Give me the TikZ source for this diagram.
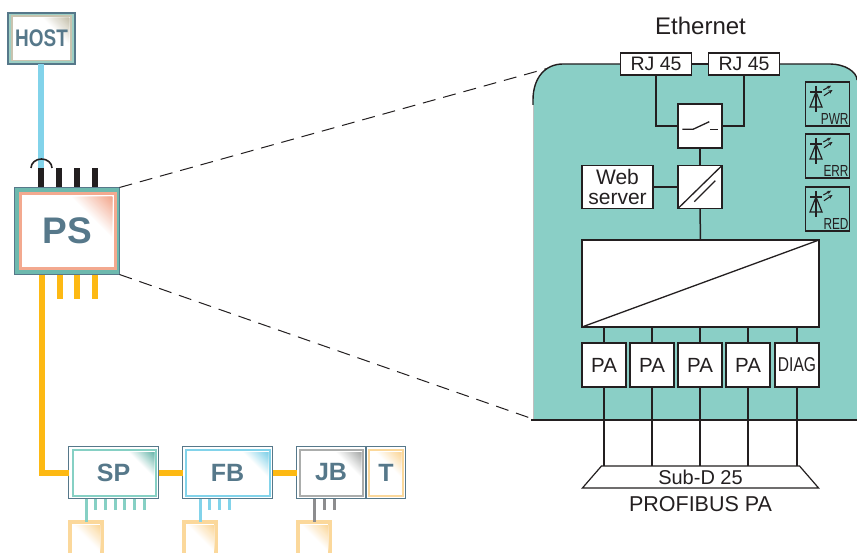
\documentclass[tikz,border=0pt]{standalone}
\usepackage{fontspec}
\setmainfont{Liberation Sans}
\usetikzlibrary{shapes.geometric,arrows.meta,calc}
\definecolor{slate}{HTML}{56788A}
\definecolor{tealbg}{HTML}{8ACFC6}
\definecolor{tealrim}{HTML}{6DB9AE}
\definecolor{tealpin}{HTML}{86D0C4}
\definecolor{salmon}{HTML}{F3A98F}
\definecolor{skyline}{HTML}{82D3EA}
\definecolor{amber}{HTML}{FDB913}
\definecolor{beige}{HTML}{C8C3AF}
\definecolor{hostrim}{HTML}{9CCFC4}
\definecolor{greyrim}{HTML}{ABADAC}
\definecolor{greypin}{HTML}{8C8C8E}
\definecolor{sand}{HTML}{FBD89B}
\definecolor{ink}{HTML}{231F20}
\newcommand\myfs[1]{\fontsize{#1}{#1}\selectfont}
\newcommand\rimrect[5]{\fill[#5] (#1,#2) rectangle (#3,#4);}
% x2 y1 size colour: a corner triangle fading to white towards its long edge
\newcommand\cornershade[4]{%
  \foreach \st in {0,...,23}{%
    \pgfmathsetmacro\sz{#3*(1-\st/24)}%
    \pgfmathsetmacro\pc{100*(\st+1)/24}%
    \fill[#4!\pc!white] (#1,#2) -- (#1-\sz,#2) -- (#1,#2+\sz) -- cycle;
  }}
\tikzset{
  every node/.style={inner sep=0pt,outer sep=0pt,text=ink},
  plainbox/.style={draw=ink,fill=white,line width=1.5pt,align=center},
  devframe/.style={draw=slate,line width=1.8pt,text=slate,font=\bfseries},
  wire/.style={draw=ink,line width=1.5pt},
  thickblue/.style={draw=skyline,line width=6pt},
  thickamber/.style={draw=amber,line width=6pt},
  blackpin/.style={draw=ink,line width=6pt},
  lead/.style={dash pattern=on 13pt off 8pt,draw=ink,line width=1pt},
  tealp/.style={draw=tealpin,line width=3pt},
  bluep/.style={draw=skyline,line width=3pt},
  greyp/.style={draw=greypin,line width=3pt},
  sandbox/.style={draw=sand,line width=4pt,fill=white}
}
\begin{document}
\begin{tikzpicture}[x=1pt,y=-1pt]
\clip (0,0) rectangle (857,553);
\fill[white] (0,0) rectangle (857,553);

% ---------- panel
\fill[tealbg] (533,419.5) -- (533,100) .. controls (533,78) and (545,64) .. (563,64) -- (830,64) .. controls (845,64) and (857,72) .. (857,80) -- (857,419.5) -- cycle;
\draw[black!25,line width=1pt] (533,105) -- (533,419);
\draw[ink,line width=1.4pt] (533,105) -- (533,100) .. controls (533,78) and (545,64) .. (563,64) -- (830,64) .. controls (845,64) and (857,72) .. (857,80);
\draw[ink,line width=1.4pt] (531,420) -- (857,420);

% ---------- HOST
\rimrect{8}{13}{75}{64}{hostrim}
\rimrect{11}{15.5}{72}{61.5}{beige}
\rimrect{12.5}{17}{70}{60}{white}
\cornershade{69}{18}{26}{beige}
\node[devframe,minimum width=67.4pt,minimum height=51.4pt] (host) at (41.5,38.5) {\myfs{24}\scalebox{.79}[1]{HOST}};

% ---------- PS
\rimrect{14}{187}{120}{275}{tealrim}
\rimrect{19}{192}{117}{270}{salmon}
\rimrect{22}{195}{114}{267}{white}
\cornershade{112}{197}{40}{salmon}
\node[devframe,minimum width=105pt,minimum height=87pt] (ps) at (67,231) {\myfs{37}PS};

% ---------- SP
\rimrect{70}{448}{157.5}{498}{white}
\rimrect{71.5}{449}{157}{497}{tealpin}
\rimrect{73.5}{451}{155}{495}{white}
\cornershade{154}{452}{25}{tealrim}
\node[devframe,minimum width=90pt,minimum height=52pt] (sp) at (113.5,472.5) {\myfs{25}SP};

% ---------- FB
\rimrect{185}{449}{271}{497}{skyline}
\rimrect{187}{451}{269}{495}{white}
\cornershade{268}{452}{25}{skyline}
\node[devframe,minimum width=90pt,minimum height=52pt] (fb) at (227.5,472.5) {\myfs{25}FB};

% ---------- JB
\rimrect{299}{449}{364}{497}{greyrim}
\rimrect{301}{451}{362}{495}{white}
\cornershade{361}{452}{25}{greyrim}
\node[devframe,minimum width=69pt,minimum height=52pt] (jb) at (331,472.5) {\myfs{25}JB};

% ---------- T
\rimrect{368}{449}{404}{497}{sand}
\rimrect{370}{451}{402}{495}{white}
\cornershade{401}{452}{25}{sand}
\node[devframe,minimum width=39pt,minimum height=52pt] (t) at (386,472.5) {\myfs{25}T};

% ---------- field boxes
\node[sandbox,minimum width=32pt,minimum height=48pt] (fa) at (86,546) {};
\node[sandbox,minimum width=32pt,minimum height=48pt] (fc) at (200,546) {};
\node[sandbox,minimum width=32pt,minimum height=48pt] (fd) at (314,546) {};
\cornershade{100}{525}{26}{sand}
\cornershade{214}{525}{26}{sand}
\cornershade{328}{525}{26}{sand}

% ---------- thick connectors
\coordinate (ethup) at (41,168);
\draw[thickblue] (host.south) ++(-0.5,0) -- (ethup);
\draw[blackpin] (41,187) -- (ethup);
\draw[blackpin] (59,187) -- (59,168);
\draw[blackpin] (77,187) -- (77,168);
\draw[blackpin] (95,187) -- (95,168);
\draw[ink,line width=1.6pt] (31,168) arc[start angle=180,end angle=0,x radius=10.5pt,y radius=9pt];
\draw[thickamber] (42,275.5) |- (sp.west);
\draw[thickamber] (59.5,275.5) -- (59.5,299);
\draw[thickamber] (77,275.5) -- (77,299);
\draw[thickamber] (95,275.5) -- (95,299);
\draw[thickamber] (sp.east) -- (fb.west);
\draw[thickamber] (fb.east) -- (jb.west);

% ---------- thin pins
\draw[tealp] (sp.south -| fa.north) -- (fa.north);
\foreach \px in {95.5,105.2,115,124.7,134.3,144}{\draw[tealp] (\px,499) -- (\px,510);}
\draw[bluep] (fb.south -| fc.north) -- (fc.north);
\foreach \px in {209.7,219.4,229}{\draw[bluep] (\px,499) -- (\px,510);}
\draw[greyp] (jb.south -| fd.north) -- (fd.north);
\foreach \px in {324,334}{\draw[greyp] (\px,499) -- (\px,510);}

% ---------- projection lines
\coordinate (pa) at (547,68.5);
\coordinate (pb) at (533,419);
\draw[lead] (ps.north east) -- (pa);
\draw[lead] (ps.south east) -- (pb);

% ---------- device internals
\node[plainbox,minimum width=71pt,minimum height=22pt,font=\myfs{19.5}] (rja) at (656,64) {RJ 45};
\node[plainbox,minimum width=71pt,minimum height=22pt,font=\myfs{19.5}] (rjb) at (744,64) {RJ 45};
\draw[wire] (rja.east) -- (rjb.west);
\node[plainbox,minimum width=44pt,minimum height=44pt] (sw) at (700,126) {};
\node[plainbox,minimum width=44pt,minimum height=43pt] (conv) at (700,187) {};
\node[plainbox,minimum width=71pt,minimum height=43pt,font=\myfs{21},execute at begin node={\baselineskip=20.5pt}] (web) at (617.5,187) {Web\\server};
\node[plainbox,minimum width=237pt,minimum height=87pt] (big) at (700.5,283.5) {};
\draw[wire] (rja.south) |- (sw.west);
\draw[wire] (rjb.south) |- (sw.east);
\draw[wire] (sw.south) -- (conv.north);
\draw[wire] (conv.south) -- (big.north);
\draw[wire] (web.east) -- (conv.west);
\draw[wire,line width=1.3pt] (682.3,129.3) -- (693,129.3) -- (709.3,121.7);
\draw[wire,line width=1.3pt] (710,129.3) -- (718.3,129.3);
\draw[wire,line width=1.3pt] (conv.south west) -- (conv.north east);
\draw[wire,line width=1.3pt] (694.3,201.7) -- (715.3,180.7);
\draw[wire,line width=1.3pt] (big.south west) -- (big.north east);

\foreach \nm/\cx/\lb in {pa1/604/PA,pa2/652/PA,pa3/700/PA,pa4/748/PA}{
  \node[plainbox,minimum width=44pt,minimum height=44pt,font=\myfs{20.5}] (\nm) at (\cx,365) {\lb};
}
\node[plainbox,minimum width=44pt,minimum height=44pt,font=\myfs{20}] (pa5) at (797,365) {\scalebox{.78}[1]{DIAG}};
\node[draw=ink,fill=white,line width=1.2pt,trapezium,trapezium stretches=true,trapezium left angle=61,trapezium right angle=61,minimum width=237pt,minimum height=22pt,font=\myfs{20}] (sub) at (700.5,477) {Sub-D 25};
\foreach \nm in {pa1,pa2,pa3,pa4,pa5}{
  \draw[wire] (big.south -| \nm.north) -- (\nm.north);
  \draw[wire] (\nm.south) -- (\nm.south |- sub.north);
}
\node[font=\myfs{21.5}] (prof) at (700.5,504.5) {PROFIBUS PA};
\node[font=\myfs{24}] (eth) at (700.5,26) {Ethernet};

% ---------- LED boxes
\foreach \nm/\ty/\lb in {ledp/82/PWR,lede/134/ERR,ledr/187/RED}{
  \node[draw=ink,line width=1.4pt,minimum width=44pt,minimum height=44pt] (\nm) at (827.5,\ty+22) {};
  \begin{scope}[shift={(0,\ty)}]
    \draw[ink,line width=1.2pt] (816,4) -- (816,30);
    \draw[ink,line width=1.2pt] (810,10) -- (822,10);
    \draw[ink,line width=1.2pt] (816,10) -- (810,25) -- (822,25) -- cycle;
    \draw[ink,line width=1.1pt,-{Stealth[length=4pt,width=3.5pt]}] (824,13.7) -- (832.5,8);
    \draw[ink,line width=1.1pt,-{Stealth[length=4pt,width=3.5pt]}] (823.3,8) -- (831,3.7);
    \node[anchor=south east,font=\myfs{16}] at (848.5,42.5) {\scalebox{.74}[1]{\lb}};
  \end{scope}
}
\end{tikzpicture}
\end{document}
